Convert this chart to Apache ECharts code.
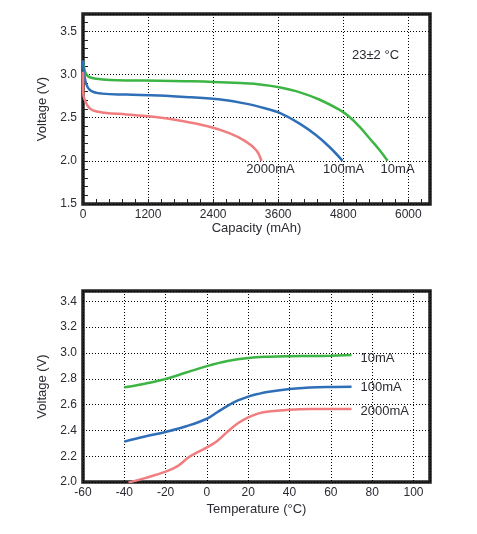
<!DOCTYPE html>
<html><head><meta charset="utf-8">
<script src="https://cdn.jsdelivr.net/npm/echarts@6/dist/echarts.min.js"></script>
<style>html,body{margin:0;padding:0;background:#fff}#c{width:477px;height:534px}</style>
</head><body><div id="c"></div>
<script>
// Discharge curves at 23±2 °C: [capacity mAh, voltage V]
const discharge10mA = [[0,3.16],[40,3.03],[100,2.975],[250,2.95],[500,2.935],[900,2.93],[1400,2.928],[1900,2.922],[2400,2.914],[2900,2.9],[3300,2.882],[3618,2.852],[3988,2.796],[4357,2.71],[4726,2.592],[4911,2.51],[5095,2.398],[5280,2.264],[5465,2.128],[5618,2.0]];
const discharge100mA = [[0,3.16],[50,2.91],[140,2.815],[350,2.778],[800,2.767],[1400,2.756],[2000,2.735],[2500,2.712],[3000,2.662],[3400,2.60],[3618,2.557],[3988,2.434],[4295,2.299],[4542,2.163],[4787,2.0]];
const discharge2000mA = [[0,3.03],[5,2.78],[80,2.643],[170,2.588],[400,2.557],[800,2.537],[1300,2.51],[1800,2.465],[2300,2.40],[2700,2.32],[3000,2.225],[3200,2.12],[3292,2.0]];
// Voltage vs temperature: [°C, V]
const temp10mA = [[-40,2.734],[-30,2.762],[-20,2.798],[-10,2.848],[0,2.898],[10,2.937],[20,2.961],[30,2.971],[40,2.975],[50,2.976],[60,2.979],[70,2.984]];
const temp100mA = [[-40,2.313],[-30,2.352],[-20,2.388],[-10,2.432],[0,2.49],[5,2.54],[10,2.59],[15,2.632],[20,2.662],[25,2.683],[30,2.699],[40,2.72],[50,2.732],[60,2.737],[70,2.739]];
const temp2000mA = [[-38,1.995],[-30,2.03],[-20,2.08],[-14,2.125],[-9,2.19],[-4,2.235],[0,2.268],[5,2.318],[10,2.39],[15,2.455],[20,2.5],[25,2.532],[30,2.547],[40,2.559],[50,2.565],[60,2.566],[70,2.566]];
const seriesNames = ['10mA','100mA','2000mA'];
const colors = ['#3db545','#2f6fb8','#f07e80'];

const txt = '#2b2b33';
const font = 'Liberation Sans';
const chart = echarts.init(document.getElementById('c'), null, {renderer:'canvas'});
const dotted = {color:'#000', type:[1,2], width:1};
function line(name, data, color, xi, endLabel){
  return {type:'line', name, data, xAxisIndex:xi, yAxisIndex:xi, showSymbol:false, symbol:'none',
    smooth:0.4, lineStyle:{color, width:2.5}, itemStyle:{color},
    endLabel: Object.assign({show:true, formatter:name, color:txt, fontSize:13, fontFamily:font}, endLabel)};
}
chart.setOption({
  animation:false,
  textStyle:{fontFamily:font},
  grid:[
    {left:83, right:47, top:14, height:190, show:true, borderColor:'#222', borderWidth:3.5, containLabel:false},
    {left:83, right:47, top:291, height:191, show:true, borderColor:'#222', borderWidth:3.5, containLabel:false}
  ],
  xAxis:[
    {type:'value', gridIndex:0, min:0, max:6400, interval:1200, name:'Capacity (mAh)', nameLocation:'middle', nameGap:18,
      nameTextStyle:{color:txt, fontSize:13, fontFamily:font},
      axisLine:{show:false}, axisTick:{show:true, inside:true, length:5, lineStyle:{color:'#222'}},
      minorTick:{show:true, splitNumber:5, length:5, lineStyle:{color:'#222'}},
      axisLabel:{color:txt, fontSize:12, margin:5, fontFamily:font, formatter:v=> v>6000? '' : String(v)},
      splitLine:{show:true, lineStyle:dotted}},
    {type:'value', gridIndex:1, min:-60, max:108, interval:20, name:'Temperature (°C)', nameLocation:'middle', nameGap:21,
      nameTextStyle:{color:txt, fontSize:13, fontFamily:font},
      axisLine:{show:false}, axisTick:{show:false},
      axisLabel:{color:txt, fontSize:12, margin:5, fontFamily:font, formatter:v=> v>100? '' : String(v)},
      splitLine:{show:true, lineStyle:dotted}}
  ],
  yAxis:[
    {type:'value', gridIndex:0, min:1.5, max:3.7, interval:0.5, name:'Voltage (V)', nameLocation:'middle', nameGap:29,
      nameTextStyle:{color:txt, fontSize:13, fontFamily:font},
      axisLine:{show:false}, axisTick:{show:true, inside:true, length:5, lineStyle:{color:'#222'}},
      minorTick:{show:true, splitNumber:5, length:5, lineStyle:{color:'#222'}},
      axisLabel:{color:txt, fontSize:12, margin:6, fontFamily:font, formatter:v=> v>3.55? '' : v.toFixed(1)},
      splitLine:{show:true, lineStyle:dotted}},
    {type:'value', gridIndex:1, min:2.0, max:3.48, interval:0.2, name:'Voltage (V)', nameLocation:'middle', nameGap:29,
      nameTextStyle:{color:txt, fontSize:13, fontFamily:font},
      axisLine:{show:false}, axisTick:{show:false},
      axisLabel:{color:txt, fontSize:12, margin:6, fontFamily:font, formatter:v=> v>3.41? '' : v.toFixed(1)},
      splitLine:{show:true, lineStyle:dotted}}
  ],
  graphic:[{type:'text', left:352, top:49, style:{text:'23±2 °C', fill:txt, font:'13px "Liberation Sans"'}}],
  series:[
    line(seriesNames[0], discharge10mA, colors[0], 0, {distance:0, align:'center', verticalAlign:'middle', offset:[10,9]}),
    line(seriesNames[1], discharge100mA, colors[1], 0, {distance:0, align:'center', verticalAlign:'middle', offset:[1,9]}),
    line(seriesNames[2], discharge2000mA, colors[2], 0, {distance:0, align:'center', verticalAlign:'middle', offset:[9,9]}),
    line(seriesNames[0], temp10mA, colors[0], 1, {distance:9, align:'left', verticalAlign:'middle', offset:[0,3]}),
    line(seriesNames[1], temp100mA, colors[1], 1, {distance:9, align:'left', verticalAlign:'middle', offset:[0,1]}),
    line(seriesNames[2], temp2000mA, colors[2], 1, {distance:9, align:'left', verticalAlign:'middle', offset:[0,2]})
  ]
});
</script></body></html>
